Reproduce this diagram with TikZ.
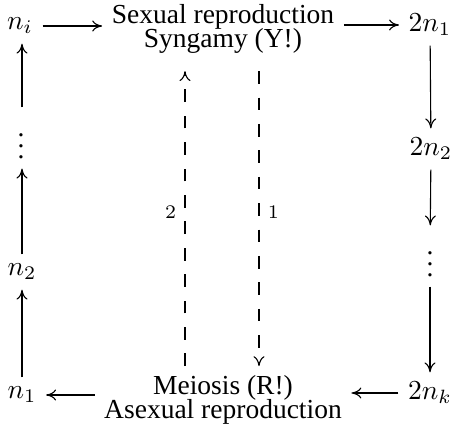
\documentclass[tikz,border=0pt]{standalone}
\usepackage[no-math]{fontspec}
\setmainfont{Liberation Serif}
\usetikzlibrary{arrows.meta}
\begin{document}
\begin{tikzpicture}[x=0.3636pt,y=-0.3636pt,
  >={To[length=3.6pt,width=4pt]},
  conn/.style={->,line width=0.4pt},
  dconn/.style={->,line width=0.4pt,dash pattern=on 4.6pt off 5pt},
  twoline/.style={align=center},
  lbl/.style={inner sep=3pt}]
\useasboundingbox (0,0) rectangle (451,425);
\node (ni) at (20,26) {$n_i$};
\node[twoline] (sex) at (223,29) {Sexual reproduction\\[-3.5pt]Syngamy (Y!)};
\node (a1) at (430,25) {$2n_1$};
\node (a2) at (431,149) {$2n_2$};
\node (ad) at (430,256) {$\vdots$};
\node (ak) at (430,393) {$2n_k$};
\node[twoline] (meio) at (223,400) {Meiosis (R!)\\[-3.5pt]Asexual reproduction};
\node (n1) at (22,395) {$n_1$};
\node (n2) at (22,272) {$n_2$};
\node (ld) at (21,138) {$\vdots$};
% top row
\draw[conn] (ni.east) -- (ni.east -| sex.west);
\draw[conn] (a1.west -| sex.east) -- (a1.west);
% right column
\draw[conn] (a1) -- (a2);
\draw[conn] (a2) -- (ad);
\draw[conn] (ad) -- (ak);
% bottom row
\draw[conn] (ak.west) -- (ak.west -| meio.east);
\draw[conn] (n1.east -| meio.west) -- (n1.east);
% left column
\draw[conn] (n1.north -| n2) -- (n2);
\draw[conn] (n2) -- (ld.south -| n2);
\draw[conn] (ld.north -| n2) -- (ni.south -| n2);
% dashed
\coordinate (dl) at (185,0);
\coordinate (dr) at (259,0);
\draw[dconn] (meio.north -| dl) -- ([yshift=-3pt]sex.south -| dl) node[lbl,pos=0.52,left] {$\scriptstyle 2$};
\draw[dconn] ([yshift=-3pt]sex.south -| dr) -- (meio.north -| dr) node[lbl,pos=0.48,right] {$\scriptstyle 1$};
\end{tikzpicture}
\end{document}
